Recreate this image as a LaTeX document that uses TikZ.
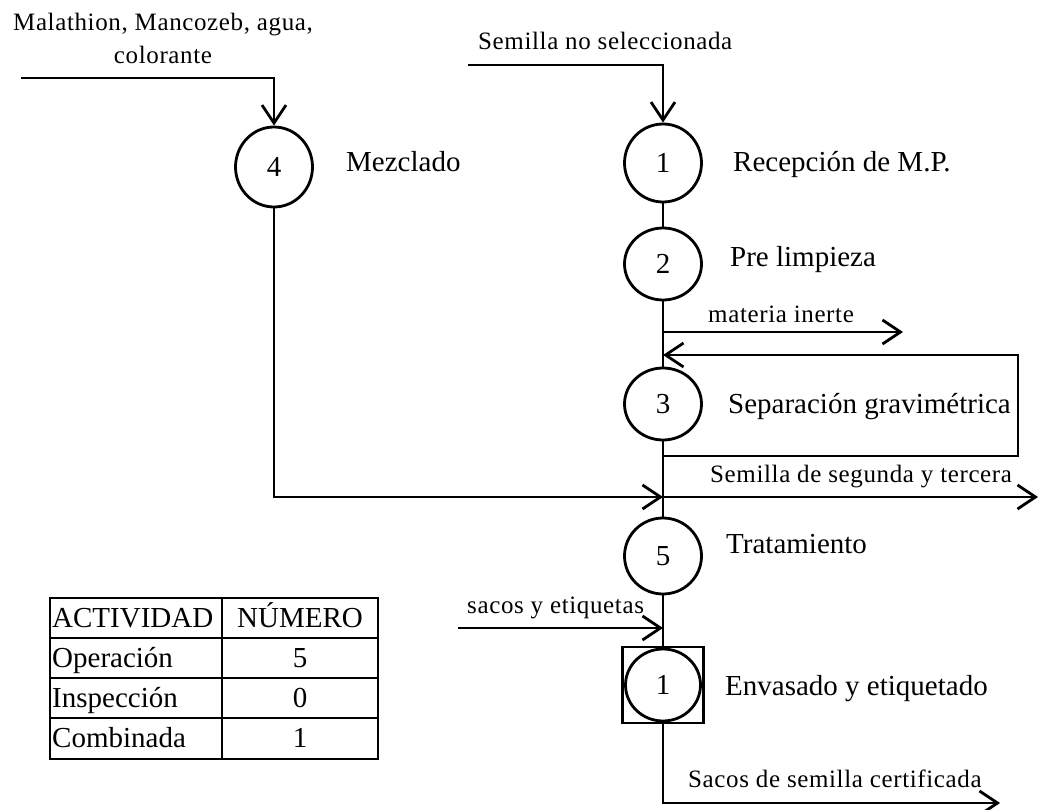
\documentclass[tikz,border=0pt]{standalone}
\usepackage{fontspec}
\setmainfont{Liberation Serif}
\newfontfamily\flowfont[LetterSpace=2.5]{Liberation Serif}
\usetikzlibrary{arrows.meta,shapes.geometric}

\begin{document}
\begin{tikzpicture}[x=1pt,y=-1pt,
  flow/.style={line width=2.8pt, line join=miter},
  arr/.style={flow, -{Straight Barb[length=18pt,width=24pt]}},
  opn/.style={ellipse, draw, line width=2.8pt, inner sep=0pt,
              minimum width=77pt, minimum height=76pt,
              font=\fontsize{29}{34}\selectfont},
  combo/.style={rectangle, draw, line width=2.8pt, inner sep=0pt,
                minimum width=81pt, minimum height=76pt},
  lbl/.style={font=\fontsize{29}{34}\selectfont, inner sep=0pt, anchor=base west},
  flowlbl/.style={font=\flowfont\fontsize{25}{33}\selectfont, inner sep=0pt, anchor=base west},
  tbl/.style={line width=1.8pt},
  cell/.style={font=\fontsize{29}{34}\selectfont, inner sep=0pt, anchor=base west},
  numcell/.style={font=\fontsize{29}{34}\selectfont, inner sep=0pt, anchor=base}]

\useasboundingbox (0,0) rectangle (1041,810);

% process symbols
\node[opn, minimum height=80pt] (c4) at (274,167) {4};
\node[opn, minimum height=78pt] (c1) at (663,163) {1};
\node[opn, minimum height=72pt] (c2) at (663,264) {2};
\node[opn, minimum height=72pt] (c3) at (663,404) {3};
\node[opn] (c5) at (663,556) {5};
\node[combo] (c6) at (663,685) {};
\node[opn, minimum width=75pt, minimum height=72pt] (c6in) at (c6) {1};

% activity names
\node[lbl] (l4) at (346,172) {Mezclado};
\node[lbl] (l1) at (733,172) {Recepción de M.P.};
\node[lbl] (l2) at (730,267) {Pre limpieza};
\node[lbl] (l3) at (728,413) {Separación gravimétrica};
\node[lbl] (l5) at (726,553) {Tratamiento};
\node[lbl] (l6) at (725,695) {Envasado y etiquetado};

% junction points on the flow lines
\coordinate (mixin) at (21,78);
\coordinate (seedin) at (468,65);
\coordinate (j1) at (663,332);
\coordinate (inertout) at (903,332);
\coordinate (j2) at (663,355);
\coordinate (lpA) at (1018,355);
\coordinate (j3) at (663,456);
\coordinate (lpB) at (1018,456);
\coordinate (j4) at (663,497);
\coordinate (out23) at (1038,497);
\coordinate (j5) at (663,628);
\coordinate (bagin) at (458,628);
\coordinate (outbag) at (1000,803);

% inputs
\draw[arr] (mixin) -| (c4.north);
\draw[arr] (seedin) -| (c1.north);

% main line
\draw[flow] (c1) -- (c2);
\draw[flow] (c2) -- (c3);
\draw[flow] (c3) -- (c5);
\draw[flow] (c5) -- (c6);
\draw[arr] (c6.south) |- (outbag);

% branches
\draw[arr] (j1) -- (inertout);
\draw[arr] (j3) -- (lpB) -- (lpA) -- (j2);
\draw[arr] (j4) -- (out23);
\draw[arr] (c4.south) |- (j4);
\draw[arr] (bagin) -- (j5);

% flow labels
\node[flowlbl, anchor=north, align=center] (tmix) at (163,13)
  {Malathion, Mancozeb, agua,\\colorante};
\node[flowlbl] (tseed) at (478,50) {Semilla no seleccionada};
\node[flowlbl] (tinert) at (708,322) {materia inerte};
\node[flowlbl] (t23) at (710,482) {Semilla de segunda y tercera};
\node[flowlbl] (tbags) at (467,613) {sacos y etiquetas};
\node[flowlbl] (tcert) at (688,787) {Sacos de semilla certificada};

% summary table
\draw[tbl] (50,598) rectangle (378,759);
\draw[tbl] (222,598) -- (222,759);
\draw[tbl] (50,638) -- (378,638);
\draw[tbl] (50,678) -- (378,678);
\draw[tbl] (50,718) -- (378,718);
\node[cell] (h1) at (52,627) {ACTIVIDAD};
\node[numcell] (h2) at (300,627) {NÚMERO};
\node[cell] (r1) at (52,667) {Operación};
\node[numcell] (n1) at (300,667) {5};
\node[cell] (r2) at (52,707) {Inspección};
\node[numcell] (n2) at (300,707) {0};
\node[cell] (r3) at (52,747) {Combinada};
\node[numcell] (n3) at (300,747) {1};
\end{tikzpicture}
\end{document}
